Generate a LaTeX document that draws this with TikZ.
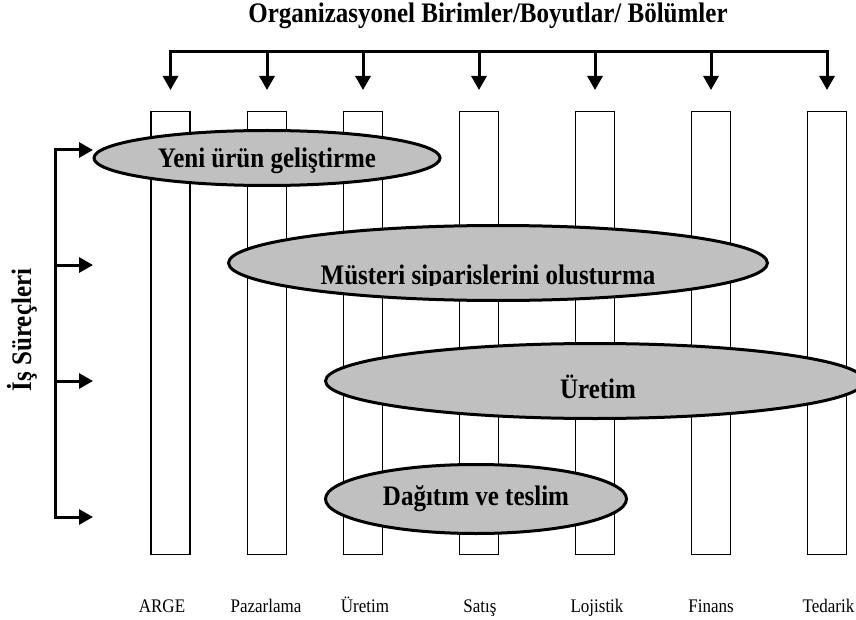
\documentclass[tikz,border=0pt]{standalone}
\usepackage{graphicx}
\usepackage{fontspec}
\setmainfont{Liberation Serif}
\usetikzlibrary{positioning,arrows.meta,shapes.geometric}
\definecolor{procGray}{HTML}{C0C0C0}
\newcommand{\tallbox}[1]{\scalebox{1}[1.13]{#1}}
\tikzset{
  unitcol/.style={rectangle, draw=black, line width=1.2pt, fill=white,
    minimum width=39pt, minimum height=443pt, inner sep=0pt, anchor=north},
  unitlbl/.style={font=\fontsize{17}{20}\selectfont, inner sep=0pt, anchor=base},
  procell/.style={ellipse, draw=black, line width=3pt, fill=procGray, inner sep=0pt},
  proctext/.style={font=\fontsize{25}{30}\selectfont\bfseries, inner sep=0pt, anchor=base},
  axistitle/.style={font=\fontsize{25}{30}\selectfont\bfseries, inner sep=0pt},
  forkboth/.style={{Triangle[length=14pt,width=15pt]}-{Triangle[length=14pt,width=15pt]},
    line width=3pt},
  forkone/.style={-{Triangle[length=14pt,width=15pt]}, line width=3pt},
}

\begin{document}
\begin{tikzpicture}[x=1pt, y=-1pt]

\useasboundingbox (0,0) rectangle (856,620);

% ---------- title ----------
\node[axistitle, anchor=base] (birimler) at (488,23)
  {\tallbox{Organizasyonel Birimler/Boyutlar/ Bölümler}};

% ---------- organisational units (columns) ----------
\node[unitcol] (col-arge) at (170.5,111) {};
\node[unitcol] (col-pazarlama) at (267,111) {};
\node[unitcol] (col-uretim) at (363,111) {};
\node[unitcol] (col-satis) at (479,111) {};
\node[unitcol] (col-lojistik) at (595,111) {};
\node[unitcol] (col-finans) at (711,111) {};
\node[unitcol] (col-tedarik) at (827,111) {};

% ---------- unit names ----------
\node[unitlbl] (lbl-arge) at (162,612) {\tallbox{ARGE}};
\node[unitlbl] (lbl-pazarlama) at (266,612) {\tallbox{Pazarlama}};
\node[unitlbl] (lbl-uretim) at (365,612) {\tallbox{Üretim}};
\node[unitlbl] (lbl-satis) at (480,612) {\tallbox{Satış}};
\node[unitlbl] (lbl-lojistik) at (597,612) {\tallbox{Lojistik}};
\node[unitlbl] (lbl-finans) at (711,612) {\tallbox{Finans}};
\node[unitlbl] (lbl-tedarik) at (828.5,612) {\tallbox{Tedarik}};

% ---------- top fork ----------
\coordinate (bar) at (499,52);
\draw[forkboth] ([yshift=21pt]col-arge.north) |- (bar)
  -| ([yshift=21pt]col-tedarik.north);
\draw[forkone] (col-pazarlama.north |- bar) -- ([yshift=21pt]col-pazarlama.north);
\draw[forkone] (col-uretim.north |- bar) -- ([yshift=21pt]col-uretim.north);
\draw[forkone] (col-satis.north |- bar) -- ([yshift=21pt]col-satis.north);
\draw[forkone] (col-lojistik.north |- bar) -- ([yshift=21pt]col-lojistik.north);
\draw[forkone] (col-finans.north |- bar) -- ([yshift=21pt]col-finans.north);

% ---------- processes ----------
\node[procell, minimum width=346pt, minimum height=55pt] (yeni) at (267,158) {};
\node[proctext] (yeni-t) at (267,168) {\tallbox{Yeni ürün geliştirme}};

\node[procell, minimum width=539pt, minimum height=75pt] (musteri) at (498,263) {};
\begin{scope}
  \clip (musteri.north west) rectangle ([yshift=-22pt]musteri.east);
  \node[proctext] (musteri-t) at (488,284) {\tallbox{Müsteri siparislerini olusturma}};
\end{scope}

\node[procell, minimum width=539pt, minimum height=75pt] (uretim) at (595,381) {};
\node[proctext] (uretim-t) at (598,398) {\tallbox{Üretim}};

\node[procell, minimum width=301pt, minimum height=69pt] (dagitim) at (476,499) {};
\node[proctext] (dagitim-t) at (476,505) {\tallbox{Dağıtım ve teslim}};

% ---------- left fork ----------
\node[axistitle, rotate=90] (surecler) at (22,330) {\tallbox{İş Süreçleri}};
\coordinate (sur) at (55,333);
\coordinate (tip-a) at (93,150);
\coordinate (tip-b) at (93,265);
\coordinate (tip-c) at (93,381);
\coordinate (tip-d) at (93,517);
\draw[forkboth] (tip-a) -| (sur) |- (tip-d);
\draw[forkone] (sur |- tip-b) -- (tip-b);
\draw[forkone] (sur |- tip-c) -- (tip-c);

\end{tikzpicture}
\end{document}
